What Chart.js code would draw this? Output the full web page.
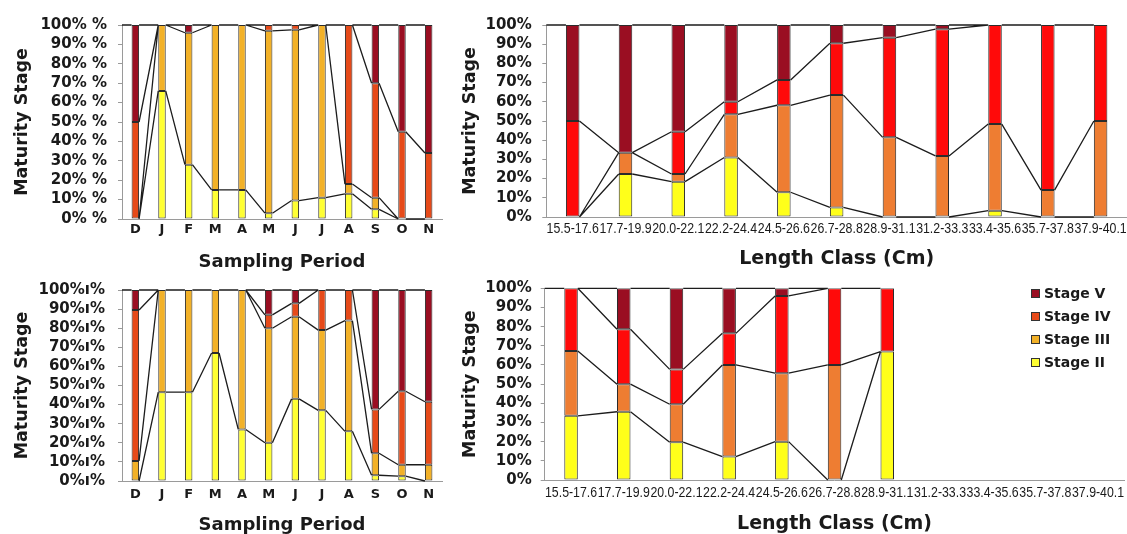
<!DOCTYPE html>
<html><head><meta charset="utf-8">
<script src="https://cdn.jsdelivr.net/npm/chart.js@4.4.1/dist/chart.umd.min.js"></script>
<style>
html,body{margin:0;padding:0;background:#fff;width:1127px;height:534px;overflow:hidden}
canvas{position:absolute;left:0;top:0}
#legend{position:absolute;left:0;top:0;font:bold 14px "DejaVu Sans",sans-serif;color:#1a1a1a}
.li{position:absolute;left:1031px;height:18px;line-height:18px;white-space:nowrap}
.sw{position:absolute;left:0;top:5px;width:7px;height:7px;border:1px solid #333}
.tx{position:absolute;left:13px;top:0}
</style></head><body>
<canvas id="c1" width="1127" height="534"></canvas>
<canvas id="c2" width="1127" height="534"></canvas>
<canvas id="c3" width="1127" height="534"></canvas>
<canvas id="c4" width="1127" height="534"></canvas>
<div id="legend"></div>
<script>
// ---------- DATA ----------
const monthLabels = ['D','J','F','M','A','M','J','J','A','S','O','N'];
const lengthLabels = ['15.5-17.6','17.7-19.9','20.0-22.1','22.2-24.4','24.5-26.6','26.7-28.8','28.9-31.1','31.2-33.3','33.4-35.6','35.7-37.8','37.9-40.1'];
const stageNames = ['Stage II','Stage III','Stage IV','Stage V'];
const yTickValues = [0,10,20,30,40,50,60,70,80,90,100];

// top-left: sampling period
const tlStageII  = [0, 66, 28, 15, 15, 3, 9.5, 11, 13, 5, 0, 0];
const tlStageIII = [0, 34, 68, 85, 85, 94, 88, 89, 5, 6, 0, 0];
const tlStageIV  = [50, 0, 0, 0, 0, 3, 2.5, 0, 82, 59, 45, 34];
const tlStageV   = [50, 0, 4, 0, 0, 0, 0, 0, 0, 30, 55, 66];

// top-right: length class
const trStageII  = [0, 22.4, 18.4, 31, 12.9, 5, 0, 0, 3.3, 0, 0];
const trStageIII = [0, 11.1, 4, 22.5, 45.3, 58.5, 41.5, 31.8, 45.1, 14, 50];
const trStageIV  = [50, 0, 22, 6.5, 13.2, 27, 51.9, 66, 51.6, 86, 50];
const trStageV   = [50, 66.5, 55.6, 40, 28.6, 9.5, 6.6, 2.2, 0, 0, 0];

// bottom-left: sampling period
const blStageII  = [0, 46.5, 46.5, 67, 27, 20, 43, 37, 26, 3, 2.5, 0];
const blStageIII = [10.5, 53.5, 53.5, 33, 73, 60, 43, 42, 58, 11.5, 6, 8.5];
const blStageIV  = [79, 0, 0, 0, 0, 7, 7, 21, 16, 23, 38.5, 33];
const blStageV   = [10.5, 0, 0, 0, 0, 13, 7, 0, 0, 62.5, 53, 58.5];

// bottom-right: length class
const brStageII  = [33.5, 35.6, 19.7, 12.2, 20, 0, 67, 0, 0, 0, 0];
const brStageIII = [33.8, 14.4, 19.8, 47.8, 35.7, 60, 0, 0, 0, 0, 0];
const brStageIV  = [32.7, 28.6, 18.2, 16.5, 40.3, 40, 33, 0, 0, 0, 0];
const brStageV   = [0, 21.4, 42.3, 23.5, 4, 0, 0, 0, 0, 0, 0];

// ---------- STYLE ----------
const leftColors  = ['#FFFF33','#F2B128','#E64A19','#9A0E22'];
const rightColors = ['#FFFF1A','#EE7D32','#FF0A0A','#9A0E22'];
const textColor = '#1a1a1a';
const axisColor = '#9a9a9a';
Chart.defaults.color = textColor;
Chart.defaults.font.family = '"DejaVu Sans", sans-serif';

const seriesLines = {
  id:'seriesLines',
  afterDatasetsDraw(chart){
    const ctx=chart.ctx, y=chart.scales.y, ds=chart.data.datasets;
    const n=chart.data.labels.length;
    const metas=ds.map((d,i)=>chart.getDatasetMeta(i));
    const cum=(k,i)=>{let s=0;for(let j=0;j<=k;j++)s+=ds[j].data[i]||0;return s;};
    const tot=i=>cum(ds.length-1,i);
    ctx.save();
    ctx.strokeStyle='#1c1c1c'; ctx.lineWidth=1.3;
    ctx.beginPath();
    for(let k=0;k<ds.length;k++){
      for(let i=0;i<n-1;i++){
        if(!tot(i)||!tot(i+1))continue;
        const b0=metas[k].data[i], b1=metas[k].data[i+1];
        ctx.moveTo(b0.x+b0.width/2, y.getPixelForValue(cum(k,i)));
        ctx.lineTo(b1.x-b1.width/2, y.getPixelForValue(cum(k,i+1)));
      }
    }
    const b=metas[0].data[0];
    ctx.moveTo(chart.chartArea.left, y.getPixelForValue(tot(0)));
    ctx.lineTo(b.x-b.width/2, y.getPixelForValue(tot(0)));
    ctx.stroke();
    ctx.restore();
  }
};

// draws the x tick labels of the scale, horizontally condensed to one category width
const condensedTicks = {
  id:'condensedTicks',
  afterDraw(chart, args, o){
    if(!o || !o.on) return;
    const xs=chart.scales.x, ctx=chart.ctx;
    const w=xs.getPixelForTick(1)-xs.getPixelForTick(0);
    ctx.save();
    ctx.font='15px "Liberation Sans", Arial, sans-serif';
    ctx.fillStyle=textColor; ctx.textAlign='center'; ctx.textBaseline='middle';
    xs.ticks.forEach((t,i)=>{
      ctx.fillText(chart.data.labels[t.value], xs.getPixelForTick(i), o.y, w-0.6);
    });
    ctx.restore();
  }
};

function makePanel(id, labels, series, colors, g){
  const datasets = series.map((d,i)=>({
    label: stageNames[i], data: d, backgroundColor: colors[i],
    borderColor:'#2b2b2b', borderWidth:1, borderSkipped:false,
    barPercentage:g.barPct, categoryPercentage:1
  }));
  return new Chart(document.getElementById(id), {
    type:'bar',
    data:{labels, datasets},
    plugins:[seriesLines, condensedTicks],
    options:{
      responsive:false, animation:false, events:[],
      layout:{padding:{left:g.L-g.yW, top:g.T, right:1127-g.R, bottom:534-g.B-g.xH}},
      plugins:{legend:{display:false}, tooltip:{enabled:false},
               condensedTicks:{on:!!g.condensed, y:g.B+g.labelY}},
      scales:{
        x:{
          stacked:true, offset:true,
          grid:{drawOnChartArea:false, drawTicks:false},
          border:{display:true, color:axisColor, width:1},
          ticks:{autoSkip:false, maxRotation:0, minRotation:0, padding:g.xTickPad,
                 font:{weight:'bold', size:13, lineHeight:1},
                 color: g.condensed ? 'rgba(0,0,0,0)' : textColor},
          title:{display:true, text:g.xTitle, font:{weight:'bold', size:g.xTitleSize, lineHeight:1}, padding:{top:0,bottom:g.xTitlePad}, color:textColor},
          afterFit(s){ s.height=g.xH; s.paddingLeft=0; s.paddingRight=0; }
        },
        y:{
          stacked:true, min:0, max:100,
          afterBuildTicks(s){ s.ticks = yTickValues.map(v=>({value:v})); },
          grid:{drawOnChartArea:false, drawTicks:true, tickLength:4, color:axisColor},
          border:{display:true, color:axisColor, width:1},
          ticks:{padding:g.yTickPad, font:{weight:'bold', size:15, lineHeight:1}, color:textColor,
                 callback:v=>v+g.suffix},
          title:{display:true, text:'Maturity Stage', font:{weight:'bold', size:17.5, lineHeight:1}, padding:{top:g.yTitlePad,bottom:0}, color:textColor},
          afterFit(s){ s.width=g.yW; s.paddingTop=0; s.paddingBottom=0; }
        }
      }
    }
  });
}

makePanel('c1', monthLabels, [tlStageII,tlStageIII,tlStageIV,tlStageV], leftColors,
  {L:122, T:25, R:442, B:219, yW:122, xH:55, barPct:0.28, xTickPad:4.5,
   xTitle:'Sampling Period', xTitleSize:18, xTitlePad:3, yTickPad:11, yTitlePad:13.75, suffix:'% %'});

makePanel('c2', lengthLabels, [trStageII,trStageIII,trStageIV,trStageV], rightColors,
  {L:546.3, T:25, R:1127, B:217, yW:100, xH:55, barPct:0.256, xTickPad:4.5, condensed:true, labelY:12,
   xTitle:'Length Class (Cm)', xTitleSize:19, xTitlePad:3.5, yTickPad:10.5, yTitlePad:14.95, suffix:'%'});

makePanel('c3', monthLabels, [blStageII,blStageIII,blStageIV,blStageV], leftColors,
  {L:122, T:290, R:442, B:481, yW:122, xH:53, barPct:0.28, xTickPad:7.5,
   xTitle:'Sampling Period', xTitleSize:18, xTitlePad:0, yTickPad:13, yTitlePad:13.75, suffix:'%\u0131%'});

makePanel('c4', lengthLabels, [brStageII,brStageIII,brStageIV,brStageV], rightColors,
  {L:544.7, T:288.3, R:1124.4, B:480, yW:100, xH:54, barPct:0.256, xTickPad:5, condensed:true, labelY:12.5,
   xTitle:'Length Class (Cm)', xTitleSize:19, xTitlePad:0.5, yTickPad:9, yTitlePad:17.5, suffix:'%'});

// ---------- LEGEND (HTML text) ----------
const legendOrder = [3,2,1,0];
const legendRowCenters = [293, 316, 339, 361.5];
const lg = document.getElementById('legend');
legendOrder.forEach((si,r)=>{
  const row=document.createElement('div'); row.className='li';
  row.style.top=(legendRowCenters[r]-9)+'px';
  row.innerHTML='<span class="sw" style="background:'+leftColors[si]+'"></span><span class="tx">'+stageNames[si]+'</span>';
  lg.appendChild(row);
});
</script>
</body></html>
